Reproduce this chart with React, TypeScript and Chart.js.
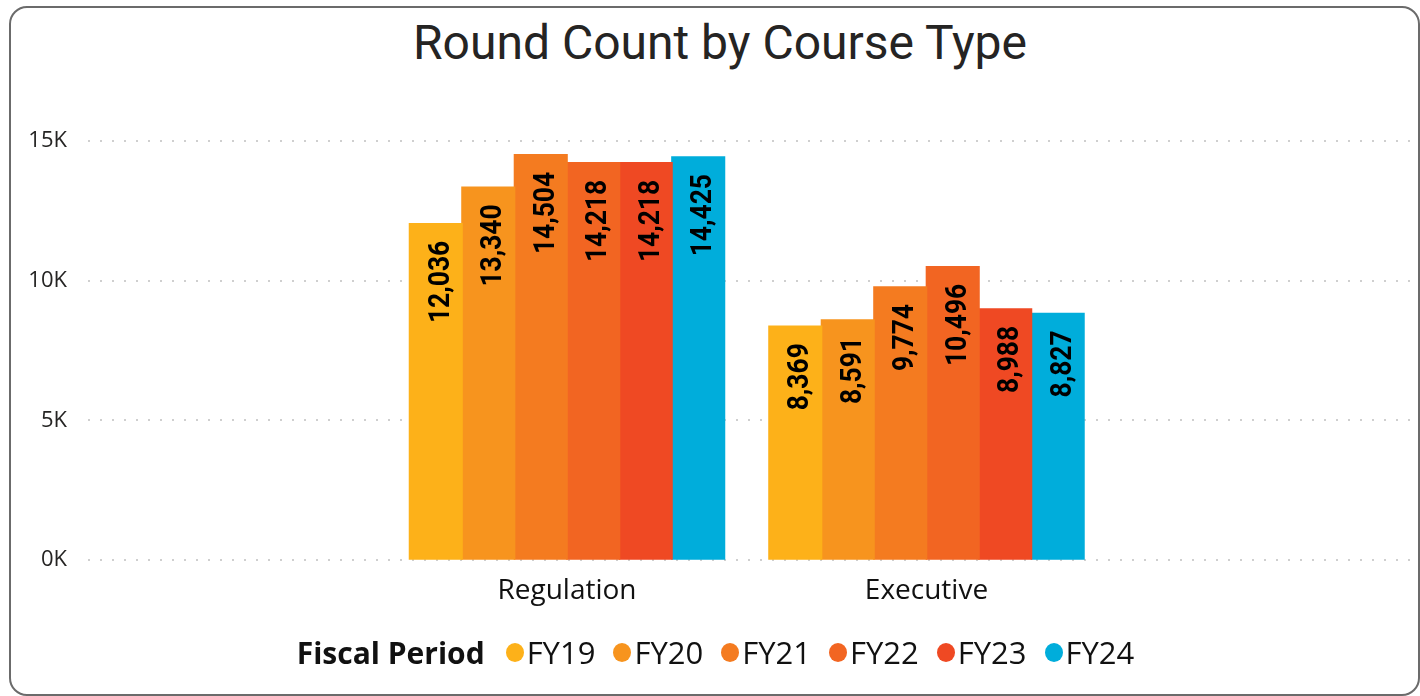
import React, { useEffect, useRef } from 'react';
import { Chart, registerables } from 'chart.js';

Chart.register(...registerables);

const categories = ['Regulation', 'Executive'];
const periods = ['FY19', 'FY20', 'FY21', 'FY22', 'FY23', 'FY24'];
const periodColors = ['#FDB119', '#F7941E', '#F47B20', '#F26522', '#EF4923', '#00ADDB'];
const fy19 = [12036, 8369];
const fy20 = [13340, 8591];
const fy21 = [14504, 9774];
const fy22 = [14218, 10496];
const fy23 = [14218, 8988];
const fy24 = [14425, 8827];
const seriesValues = [fy19, fy20, fy21, fy22, fy23, fy24];
const yTicks = [0, 5000, 10000, 15000];
const yTickLabels = ['0K', '5K', '10K', '15K'];
const titleText = 'Round Count by Course Type';
const legendTitle = 'Fiscal Period';

const barLabelPlugin = {
  id: 'barLabels',
  afterDatasetsDraw(chart: any) {
    const ctx = chart.ctx;
    chart.data.datasets.forEach((ds: any, di: number) => {
      const meta = chart.getDatasetMeta(di);
      meta.data.forEach((bar: any, i: number) => {
        const v = seriesValues[di][i];
        const text = v.toLocaleString('en-US');
        ctx.save();
        ctx.translate(bar.x + 13, bar.y + 17);
        ctx.rotate(-Math.PI / 2);
        ctx.scale(0.88, 1);
        ctx.font = 'bold 30px Roboto';
        ctx.fillStyle = '#000000';
        ctx.textAlign = 'right';
        ctx.textBaseline = 'alphabetic';
        ctx.fillText(text, 0, 0);
        ctx.restore();
      });
    });
  },
};

export default function App() {
  const canvasRef = useRef<HTMLCanvasElement | null>(null);

  useEffect(() => {
    if (!canvasRef.current) return;
    const chart = new Chart(canvasRef.current, {
      type: 'bar',
      data: {
        datasets: periods.map((p, di) => ({
          label: p,
          data: categories.map((c, i) => ({ x: i, y: seriesValues[di][i] })),
          backgroundColor: periodColors[di],
          borderWidth: 0,
          inflateAmount: 0.8,
          barPercentage: 1,
          categoryPercentage: 0.876,
        })),
      },
      options: {
        animation: false,
        responsive: false,
        devicePixelRatio: 1,
        layout: { padding: { left: 0, right: 10, top: 141, bottom: 76 } },
        plugins: {
          legend: { display: false },
          title: { display: false },
          tooltip: { enabled: false },
        },
        scales: {
          x: {
            type: 'linear',
            offset: false,
            min: -1.338,
            max: 2.345,
            grid: { display: false, drawTicks: false, offset: false },
            border: { display: false },
            afterBuildTicks: (scale: any) => {
              scale.ticks = categories.map((c, i) => ({ value: i }));
            },
            afterFit: (scale: any) => {
              scale.height = 60;
            },
            ticks: {
              autoSkip: false,
              maxRotation: 0,
              padding: 14,
              color: '#111111',
              font: { family: 'Open Sans', size: 28 },
              callback: (v: any) => categories[Math.round(Number(v))] ?? '',
            },
          },
          y: {
            min: 0,
            max: 15000,
            grid: {
              color: '#cfcfcf',
              lineWidth: 2,
              drawTicks: false,
            },
            border: { display: false, dash: [2, 10], dashOffset: -2 },
            afterBuildTicks: (scale: any) => {
              scale.ticks = yTicks.map((v) => ({ value: v }));
            },
            afterFit: (scale: any) => {
              scale.width = 86;
            },
            ticks: {
              padding: 19,
              color: '#252423',
              font: { family: 'Open Sans', size: 22 },
              callback: (v: any) => yTickLabels[yTicks.indexOf(Number(v))] ?? '',
            },
          },
        },
      } as any,
      plugins: [barLabelPlugin],
    });
    return () => chart.destroy();
  }, []);

  return (
    <div style={{ position: 'fixed', left: 0, top: 0, width: 1420, height: 696, background: '#fff', overflow: 'hidden' }}>
      <div
        style={{
          position: 'absolute',
          left: 9,
          top: 6,
          width: 1411,
          height: 690,
          boxSizing: 'border-box',
          border: '2px solid #6b6b6b',
          borderRadius: 18,
        }}
      />
      <div
        style={{
          position: 'absolute',
          left: 0,
          top: 19,
          width: 1440,
          textAlign: 'center',
          fontFamily: 'Roboto',
          fontWeight: 400,
          fontSize: 48,
          lineHeight: '48px',
          color: '#252423',
          whiteSpace: 'nowrap',
        }}
      >
        {titleText}
      </div>
      <canvas ref={canvasRef} width={1420} height={696} style={{ position: 'absolute', left: 0, top: 0, width: 1420, height: 696 }} />
      <div
        style={{
          position: 'absolute',
          left: 0,
          top: 632,
          width: 1431,
          height: 40,
          display: 'flex',
          justifyContent: 'center',
          alignItems: 'center',
          fontFamily: 'Open Sans',
          fontSize: 31,
          color: '#111111',
          whiteSpace: 'nowrap',
        }}
      >
        <span style={{ fontWeight: 700, fontSize: 30, marginRight: 21 }}>{legendTitle}</span>
        {periods.map((p, i) => (
          <span key={p} style={{ display: 'flex', alignItems: 'center', marginRight: i < periods.length - 1 ? 18 : 0 }}>
            <span style={{ width: 18, height: 19, borderRadius: '50%', background: periodColors[i], marginRight: 3, display: 'inline-block' }} />
            <span>{p}</span>
          </span>
        ))}
      </div>
    </div>
  );
}
